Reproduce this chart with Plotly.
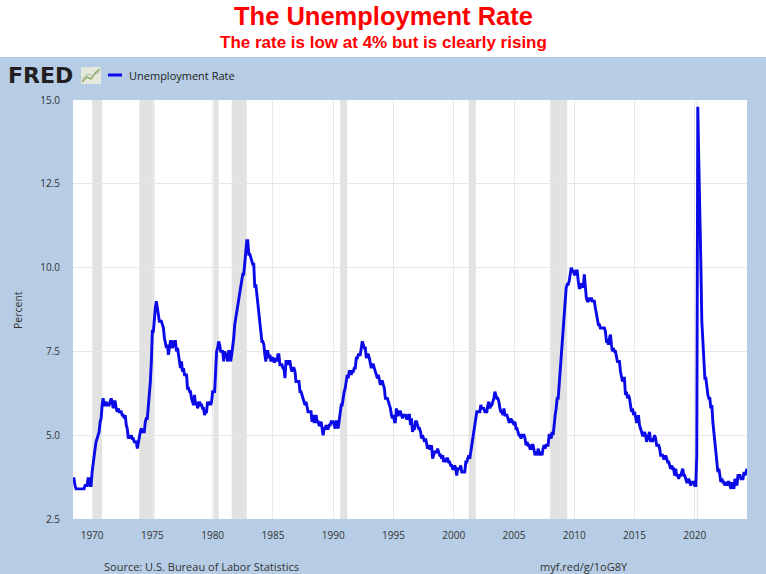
import pandas as pd
import plotly.graph_objects as go

# ---------------- data ----------------
first_month = "1968-06-01"
unemployment_rate = [
    3.7, 3.7, 3.5, 3.4, 3.4, 3.4, 3.4,                              # 1968 Jun-Dec
    3.4, 3.4, 3.4, 3.4, 3.4, 3.5, 3.5, 3.5, 3.7, 3.7, 3.5, 3.5,     # 1969
    3.9, 4.2, 4.4, 4.6, 4.8, 4.9, 5.0, 5.1, 5.4, 5.5, 5.9, 6.1,     # 1970
    5.9, 5.9, 6.0, 5.9, 5.9, 5.9, 6.0, 6.1, 6.0, 5.8, 6.0, 6.0,     # 1971
    5.8, 5.7, 5.8, 5.7, 5.7, 5.7, 5.6, 5.6, 5.5, 5.6, 5.3, 5.2,     # 1972
    4.9, 5.0, 4.9, 5.0, 4.9, 4.9, 4.8, 4.8, 4.8, 4.6, 4.8, 4.9,     # 1973
    5.1, 5.2, 5.1, 5.1, 5.1, 5.4, 5.5, 5.5, 5.9, 6.0, 6.6, 7.2,     # 1974
    8.1, 8.1, 8.6, 8.8, 9.0, 8.8, 8.6, 8.4, 8.4, 8.4, 8.3, 8.2,     # 1975
    7.9, 7.7, 7.6, 7.7, 7.4, 7.6, 7.8, 7.8, 7.6, 7.7, 7.8, 7.8,     # 1976
    7.5, 7.6, 7.4, 7.2, 7.0, 7.2, 6.9, 7.0, 6.8, 6.8, 6.8, 6.4,     # 1977
    6.4, 6.3, 6.3, 6.1, 6.0, 5.9, 6.2, 5.9, 6.0, 5.8, 5.9, 6.0,     # 1978
    5.9, 5.9, 5.8, 5.8, 5.6, 5.7, 5.7, 6.0, 5.9, 6.0, 5.9, 6.0,     # 1979
    6.3, 6.3, 6.3, 6.9, 7.5, 7.6, 7.8, 7.7, 7.5, 7.5, 7.5, 7.2,     # 1980
    7.5, 7.4, 7.4, 7.2, 7.5, 7.5, 7.2, 7.4, 7.6, 7.9, 8.3, 8.5,     # 1981
    8.6, 8.9, 9.0, 9.3, 9.4, 9.6, 9.8, 9.8, 10.1, 10.4, 10.8, 10.8,  # 1982
    10.4, 10.4, 10.3, 10.2, 10.1, 10.1, 9.4, 9.5, 9.2, 8.8, 8.5, 8.3,  # 1983
    8.0, 7.8, 7.8, 7.7, 7.4, 7.2, 7.5, 7.5, 7.3, 7.4, 7.2, 7.3,     # 1984
    7.3, 7.2, 7.2, 7.3, 7.2, 7.4, 7.4, 7.1, 7.1, 7.1, 7.0, 7.0,     # 1985
    6.7, 7.2, 7.2, 7.1, 7.2, 7.2, 7.0, 6.9, 7.0, 7.0, 6.9, 6.6,     # 1986
    6.6, 6.6, 6.6, 6.3, 6.3, 6.2, 6.1, 6.0, 5.9, 6.0, 5.8, 5.7,     # 1987
    5.7, 5.7, 5.7, 5.4, 5.6, 5.4, 5.4, 5.6, 5.4, 5.4, 5.3, 5.3,     # 1988
    5.4, 5.2, 5.0, 5.2, 5.2, 5.3, 5.2, 5.2, 5.3, 5.3, 5.4, 5.4,     # 1989
    5.4, 5.3, 5.2, 5.4, 5.4, 5.2, 5.5, 5.7, 5.9, 5.9, 6.2, 6.3,     # 1990
    6.4, 6.6, 6.8, 6.7, 6.9, 6.9, 6.8, 6.9, 6.9, 7.0, 7.0, 7.3,     # 1991
    7.3, 7.4, 7.4, 7.4, 7.6, 7.8, 7.7, 7.6, 7.6, 7.3, 7.4, 7.4,     # 1992
    7.3, 7.1, 7.0, 7.1, 7.1, 7.0, 6.9, 6.8, 6.7, 6.8, 6.6, 6.5,     # 1993
    6.6, 6.6, 6.5, 6.4, 6.1, 6.1, 6.1, 6.0, 5.9, 5.8, 5.6, 5.5,     # 1994
    5.6, 5.4, 5.4, 5.8, 5.6, 5.6, 5.7, 5.7, 5.6, 5.5, 5.6, 5.6,     # 1995
    5.6, 5.5, 5.5, 5.6, 5.6, 5.3, 5.5, 5.1, 5.2, 5.2, 5.4, 5.4,     # 1996
    5.3, 5.2, 5.2, 5.1, 4.9, 5.0, 4.9, 4.8, 4.9, 4.7, 4.6, 4.7,     # 1997
    4.6, 4.6, 4.7, 4.3, 4.4, 4.5, 4.5, 4.5, 4.6, 4.5, 4.4, 4.4,     # 1998
    4.3, 4.4, 4.2, 4.3, 4.2, 4.3, 4.3, 4.2, 4.2, 4.1, 4.1, 4.0,     # 1999
    4.0, 4.1, 4.0, 3.8, 4.0, 4.0, 4.0, 4.1, 3.9, 3.9, 3.9, 3.9,     # 2000
    4.2, 4.2, 4.3, 4.4, 4.3, 4.5, 4.6, 4.9, 5.0, 5.3, 5.5, 5.7,     # 2001
    5.7, 5.7, 5.7, 5.9, 5.8, 5.8, 5.8, 5.7, 5.7, 5.7, 5.9, 6.0,     # 2002
    5.8, 5.9, 5.9, 6.0, 6.1, 6.3, 6.2, 6.1, 6.1, 6.0, 5.8, 5.7,     # 2003
    5.7, 5.6, 5.8, 5.6, 5.6, 5.6, 5.5, 5.4, 5.4, 5.5, 5.4, 5.4,     # 2004
    5.3, 5.4, 5.2, 5.2, 5.1, 5.0, 5.0, 4.9, 5.0, 5.0, 5.0, 4.9,     # 2005
    4.7, 4.8, 4.7, 4.7, 4.6, 4.6, 4.7, 4.7, 4.5, 4.4, 4.5, 4.4,     # 2006
    4.6, 4.5, 4.4, 4.5, 4.4, 4.6, 4.7, 4.6, 4.7, 4.7, 4.7, 5.0,     # 2007
    5.0, 4.9, 5.1, 5.0, 5.4, 5.6, 5.8, 6.1, 6.1, 6.5, 6.8, 7.3,     # 2008
    7.8, 8.3, 8.7, 9.0, 9.4, 9.5, 9.5, 9.6, 9.8, 10.0, 9.9, 9.9,    # 2009
    9.8, 9.8, 9.9, 9.9, 9.6, 9.4, 9.4, 9.5, 9.5, 9.4, 9.8, 9.3,     # 2010
    9.1, 9.0, 9.0, 9.1, 9.0, 9.1, 9.0, 9.0, 9.0, 8.8, 8.6, 8.5,     # 2011
    8.3, 8.3, 8.2, 8.2, 8.2, 8.2, 8.2, 8.1, 7.8, 7.8, 7.7, 7.9,     # 2012
    8.0, 7.7, 7.5, 7.6, 7.5, 7.5, 7.3, 7.2, 7.2, 7.2, 6.9, 6.7,     # 2013
    6.6, 6.7, 6.7, 6.2, 6.3, 6.1, 6.2, 6.1, 5.9, 5.7, 5.8, 5.6,     # 2014
    5.7, 5.5, 5.4, 5.4, 5.6, 5.3, 5.2, 5.1, 5.0, 5.0, 5.1, 5.0,     # 2015
    4.8, 4.9, 5.0, 5.1, 4.8, 4.9, 4.8, 4.9, 5.0, 4.9, 4.7, 4.7,     # 2016
    4.7, 4.6, 4.4, 4.4, 4.4, 4.3, 4.3, 4.4, 4.3, 4.2, 4.2, 4.1,     # 2017
    4.0, 4.1, 4.0, 4.0, 3.8, 4.0, 3.8, 3.8, 3.7, 3.8, 3.8, 3.9,     # 2018
    4.0, 3.8, 3.8, 3.7, 3.6, 3.6, 3.7, 3.6, 3.5, 3.6, 3.6, 3.6,     # 2019
    3.5, 3.5, 4.4, 14.8, 13.2, 11.0, 10.2, 8.4, 7.8, 6.9, 6.7, 6.7,  # 2020
    6.4, 6.2, 6.1, 6.1, 5.8, 5.9, 5.4, 5.1, 4.7, 4.5, 4.2, 3.9,     # 2021
    4.0, 3.8, 3.6, 3.7, 3.6, 3.6, 3.5, 3.6, 3.5, 3.6, 3.6, 3.5,     # 2022
    3.4, 3.6, 3.5, 3.4, 3.7, 3.6, 3.5, 3.8, 3.8, 3.8, 3.7, 3.7,     # 2023
    3.7, 3.9, 3.8, 3.9, 4.0,                                         # 2024 Jan-May
]
months = pd.date_range(first_month, periods=len(unemployment_rate), freq="MS")

recession_start = ["1970-01-01", "1973-12-01", "1980-02-01", "1981-08-01",
                   "1990-08-01", "2001-04-01", "2008-01-01", "2020-03-01"]
recession_end = ["1970-11-01", "1975-03-01", "1980-07-01", "1982-11-01",
                 "1991-03-01", "2001-11-01", "2009-06-01", "2020-04-01"]

year_ticks = ["1970", "1975", "1980", "1985", "1990", "1995", "2000",
              "2005", "2010", "2015", "2020"]
y_ticks = [2.5, 5.0, 7.5, 10.0, 12.5, 15.0]

series_name = "Unemployment Rate"
title_text = "The Unemployment Rate"
subtitle_text = "The rate is low at 4% but is clearly rising"
source_text = "Source: U.S. Bureau of Labor Statistics"
link_text = "myf.red/g/1oG8Y"

# ---------------- layout geometry (pixels) ----------------
W, H = 766, 574
L, R, T, B = 73, 19, 100, 55
PW, PH = W - L - R, H - T - B


def px(xp):
    return (xp - L) / PW


def py(yp):
    return (H - B - yp) / PH


PANEL = "#b6cde5"
TXT = "#333333"
LINE_BLUE = "#0a0ae8"

fig = go.Figure()
fig.add_trace(go.Scatter(
    x=months, y=unemployment_rate, mode="lines", name=series_name,
    line=dict(color=LINE_BLUE, width=2.9), showlegend=False,
    hovertemplate="%{x|%b %Y}: %{y:.1f}%<extra></extra>",
))

shapes = []
# white header strip above the blue FRED panel
shapes.append(dict(type="rect", xref="paper", yref="paper",
                   x0=px(-5), x1=px(W + 5), y0=py(57), y1=py(-5),
                   fillcolor="white", line=dict(width=0), layer="below"))
# recession bands
for s, e in zip(recession_start, recession_end):
    shapes.append(dict(type="rect", xref="x", yref="paper", x0=s, x1=e,
                       y0=0, y1=1, fillcolor="#e2e2e2",
                       line=dict(width=0), layer="below"))
# FRED logo icon
shapes.append(dict(type="rect", xref="paper", yref="paper",
                   x0=px(81), x1=px(101), y0=py(84), y1=py(67),
                   fillcolor="#e4e9dc", line=dict(width=0)))
shapes.append(dict(type="path", xref="paper", yref="paper",
                   path="M {} {} L {} {} L {} {} L {} {} L {} {}".format(
                       px(82), py(82), px(87), py(77), px(91), py(79),
                       px(96), py(72), px(100), py(69)),
                   line=dict(color="#8fae6a", width=1.5)))
shapes.append(dict(type="path", xref="paper", yref="paper",
                   path="M {} {} L {} {} L {} {} L {} {}".format(
                       px(82), py(79), px(88), py(74), px(93), py(76),
                       px(100), py(71)),
                   line=dict(color="#a9b3a0", width=1)))
# legend line
shapes.append(dict(type="line", xref="paper", yref="paper",
                   x0=px(108), x1=px(122), y0=py(75), y1=py(75),
                   line=dict(color=LINE_BLUE, width=3)))

annotations = [
    dict(text="<b>" + title_text + "</b>", x=px(383), y=py(16),
         xref="paper", yref="paper", showarrow=False, xanchor="center",
         yanchor="middle",
         font=dict(family="Arial, Liberation Sans", size=25.5, color="#ff0000")),
    dict(text="<b>" + subtitle_text + "</b>", x=px(383), y=py(42),
         xref="paper", yref="paper", showarrow=False, xanchor="center",
         yanchor="middle",
         font=dict(family="Arial, Liberation Sans", size=17, color="#ff0000")),
    dict(text="<b>FRED</b>", x=px(6), y=py(75), xref="paper", yref="paper",
         showarrow=False, xanchor="left", yanchor="middle",
         font=dict(family="DejaVu Sans", size=22, color="#231f20")),
    dict(text=series_name, x=px(127), y=py(75), xref="paper", yref="paper",
         showarrow=False, xanchor="left", yanchor="middle",
         font=dict(family="Open Sans", size=11, color="#222222")),
    dict(text="Percent", x=px(18), y=py(310), xref="paper", yref="paper",
         showarrow=False, textangle=-90, xanchor="center", yanchor="middle",
         font=dict(family="Open Sans", size=10.5, color=TXT)),
    dict(text=source_text, x=px(102), y=py(566), xref="paper", yref="paper",
         showarrow=False, xanchor="left", yanchor="middle",
         font=dict(family="Open Sans", size=11, color=TXT)),
    dict(text=link_text, x=px(538), y=py(566), xref="paper", yref="paper",
         showarrow=False, xanchor="left", yanchor="middle",
         font=dict(family="Open Sans", size=11, color=TXT)),
]

fig.update_layout(
    width=W, height=H,
    margin=dict(l=L, r=R, t=T, b=B, pad=0),
    paper_bgcolor=PANEL, plot_bgcolor="white",
    shapes=shapes, annotations=annotations,
    showlegend=False,
    font=dict(family="Open Sans", size=10, color=TXT),
    xaxis=dict(
        type="date", range=[months[0], months[-1]],
        tickvals=[y + "-01-01" for y in year_ticks], ticktext=year_ticks,
        showgrid=True, gridcolor="#e8e8e8", gridwidth=1,
        zeroline=False, showline=False,
        ticks="outside", ticklen=7, tickcolor="rgba(0,0,0,0)",
        tickfont=dict(family="Open Sans", size=10, color=TXT),
    ),
    yaxis=dict(
        range=[2.5, 15.0], tickvals=y_ticks,
        ticktext=["{:.1f}".format(v) for v in y_ticks],
        showgrid=True, gridcolor="#e6e6e6", gridwidth=1,
        zeroline=False, showline=False,
        ticks="outside", ticklen=10, tickcolor="rgba(0,0,0,0)",
        tickfont=dict(family="Open Sans", size=10, color=TXT),
    ),
)

fig.write_html(
    "out.html",
    config={"displayModeBar": False},
    post_script="document.body.style.margin='0px';document.body.style.padding='0px';",
)
